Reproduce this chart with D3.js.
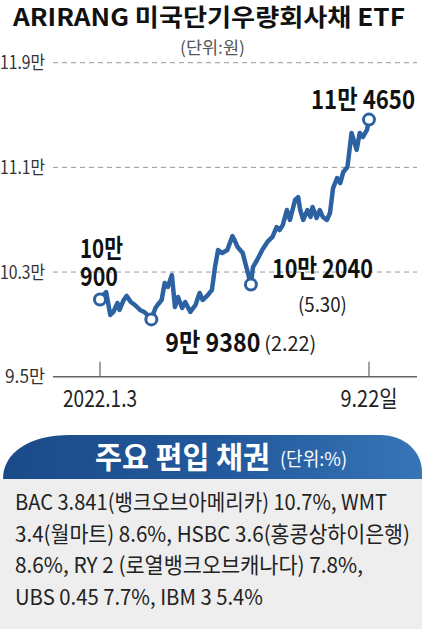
<!DOCTYPE html>
<html>
<head>
<meta charset="utf-8">
<script src="https://cdn.jsdelivr.net/npm/d3@7"></script>
<style>
  body { margin: 0; background: #fff; }
  text { font-family: "Noto Sans CJK KR", "Noto Sans", sans-serif; }
</style>
</head>
<body>
<div id="viz"></div>
<script>
// daily close, won
var dates = [
  "2022-01-03","2022-01-06","2022-01-09","2022-01-13","2022-01-16","2022-01-20","2022-01-22","2022-01-26",
  "2022-01-29","2022-02-02","2022-02-06","2022-02-11","2022-02-15","2022-02-18","2022-02-22","2022-02-26",
  "2022-02-28","2022-03-04","2022-03-07","2022-03-10","2022-03-14","2022-03-17","2022-03-20","2022-03-24",
  "2022-03-27","2022-04-01","2022-04-06","2022-04-10","2022-04-13","2022-04-18","2022-04-22","2022-04-25",
  "2022-04-28","2022-05-02","2022-05-07","2022-05-12","2022-05-14","2022-05-17","2022-05-22","2022-05-30",
  "2022-06-01","2022-06-05","2022-06-10","2022-06-15","2022-06-20","2022-06-24","2022-06-27","2022-06-30",
  "2022-07-04","2022-07-07","2022-07-12","2022-07-15","2022-07-17","2022-07-20","2022-07-24","2022-07-27",
  "2022-07-29","2022-08-02","2022-08-05","2022-08-08","2022-08-12","2022-08-15","2022-08-18","2022-08-22",
  "2022-08-25","2022-08-28","2022-09-01","2022-09-03","2022-09-05","2022-09-08","2022-09-10","2022-09-13",
  "2022-09-16","2022-09-20","2022-09-22"
];
var prices = [
  100900,101240,101470, 99720, 99950,100630,100100,100860,
  101170,100710,100480,100100, 99950, 99720, 99380,100250,
  100480,100860,102160,101860,102770,100330,101090,100250,
  100710, 99950,100480,101400,100860,101240,101630,103380,
  104680,104450,104680,105750,105450,104910,104450,102040,
  103380,103920,104680,105300,105680,106440,106210,106590,
  107740,106980,108510,108730,107740,106980,107740,107210,
  107970,107130,107740,107210,106980,107510,109420,110190,
  109800,110650,111030,112330,113630,112860,112330,113630,
  113320,113860,114650
];

var yTicks = [95000, 103000, 111000, 119000];
var yTickLabels = ["9.5만", "10.3만", "11.1만", "11.9만"];
var xTicks = ["2022-01-03", "2022-09-22"];
var xTickLabels = ["2022.1.3", "9.22일"];

// labelled points
var noteDates = ["2022-01-03", "2022-02-22", "2022-05-30", "2022-09-22"];
var noteValues = [100900, 99380, 102040, 114650];
var noteTexts = [["10만", "900"], ["9만 9380"], ["10만 2040"], ["11만 4650"]];
var noteSubs = ["", "(2.22)", "(5.30)", ""];

var title = "ARIRANG 미국단기우량회사채 ETF";
var unitText = "(단위:원)";
var boxTitle = "주요 편입 채권";
var boxUnit = "(단위:%)";
var holdingLines = [
  "BAC 3.841(뱅크오브아메리카) 10.7%, WMT",
  "3.4(월마트) 8.6%, HSBC 3.6(홍콩상하이은행)",
  "8.6%, RY 2 (로열뱅크오브캐나다) 7.8%,",
  "UBS 0.45 7.7%, IBM 3 5.4%"
];

var W = 425, H = 629;
var parseDate = d3.timeParse("%Y-%m-%d");
var lineColor = "#2d62a2";

var svg = d3.select("#viz").append("svg")
  .attr("width", W).attr("height", H);

var data = dates.map((d, i) => ({ date: parseDate(d), value: prices[i] }));

// scales
var x = d3.scaleTime()
  .domain([parseDate(xTicks[0]), parseDate(xTicks[1])])
  .range([100, 369]);
var y = d3.scaleLinear()
  .domain([95000, 119000])
  .range([376.7, 62.7]);

// title
svg.append("text")
  .attr("x", 13).attr("y", 26)
  .attr("font-size", 24).attr("font-weight", 700)
  .attr("textLength", 392).attr("lengthAdjust", "spacingAndGlyphs")
  .attr("fill", "#111")
  .text(title);

svg.append("text")
  .attr("x", 180).attr("y", 54)
  .attr("font-size", 17).attr("fill", "#555")
  .attr("textLength", 65).attr("lengthAdjust", "spacingAndGlyphs")
  .text(unitText);

// grid lines
var grid = svg.append("g");
grid.selectAll("line.grid")
  .data(yTicks.slice(1))
  .enter().append("line")
  .attr("class", "grid")
  .attr("x1", 53).attr("x2", 417)
  .attr("y1", d => y(d)).attr("y2", d => y(d))
  .attr("stroke", "#999").attr("stroke-width", 1)
  .attr("stroke-dasharray", "5,4");

// baseline
svg.append("line")
  .attr("x1", 53).attr("x2", 417)
  .attr("y1", y(yTicks[0])).attr("y2", y(yTicks[0]))
  .attr("stroke", "#666").attr("stroke-width", 1.5);

grid.selectAll("text.ylab")
  .data(yTicks)
  .enter().append("text")
  .attr("class", "ylab")
  .attr("x", 45).attr("y", d => y(d) + 6.5)
  .attr("text-anchor", "end")
  .attr("font-size", 18)
  .attr("textLength", (d, i) => yTickLabels[i].length > 4 ? 45 : 40)
  .attr("lengthAdjust", "spacingAndGlyphs")
  .attr("fill", "#333")
  .text((d, i) => yTickLabels[i]);

// x ticks
var xt = svg.append("g");
xt.selectAll("line")
  .data(xTicks)
  .enter().append("line")
  .attr("x1", d => x(parseDate(d))).attr("x2", d => x(parseDate(d)))
  .attr("y1", y(yTicks[0]) - 15).attr("y2", y(yTicks[0]))
  .attr("stroke", "#666").attr("stroke-width", 1.2);
xt.selectAll("text")
  .data(xTicks)
  .enter().append("text")
  .attr("x", d => x(parseDate(d)))
  .attr("y", 407)
  .attr("text-anchor", "middle")
  .attr("font-size", 23)
  .attr("textLength", (d, i) => [74, 57][i]).attr("lengthAdjust", "spacingAndGlyphs")
  .attr("fill", "#222")
  .text((d, i) => xTickLabels[i]);

// price line
var drawLine = d3.line()
  .x(d => x(d.date))
  .y(d => y(d.value));

svg.append("path")
  .datum(data)
  .attr("fill", "none")
  .attr("stroke", lineColor)
  .attr("stroke-width", 4.5)
  .attr("stroke-linejoin", "round")
  .attr("stroke-linecap", "round")
  .attr("d", drawLine);

// markers
var notes = noteDates.map((d, i) => ({
  date: parseDate(d), value: noteValues[i], text: noteTexts[i], sub: noteSubs[i]
}));

svg.selectAll("circle.note")
  .data(notes)
  .enter().append("circle")
  .attr("class", "note")
  .attr("cx", d => x(d.date)).attr("cy", d => y(d.value))
  .attr("r", 5.5)
  .attr("fill", "#fff")
  .attr("stroke", lineColor)
  .attr("stroke-width", 3);

// label placement relative to each marker
var noteLayout = [
  { dx: -20, dy: [-42, -14], anchor: "start", len: [43, 38] },
  { dx: 14, dy: [33], anchor: "start", len: [95], subDx: 113, subDy: 32, subLen: 52 },
  { dx: 21, dy: [-7], anchor: "start", len: [101], subDx: 47, subDy: 27, subLen: 49 },
  { dx: 46, dy: [-11], anchor: "end", len: [104] }
];

notes.forEach((n, i) => {
  var lay = noteLayout[i];
  var px = x(n.date), py = y(n.value);
  n.text.forEach((t, j) => {
    svg.append("text")
      .attr("x", px + lay.dx).attr("y", py + lay.dy[j])
      .attr("text-anchor", lay.anchor)
      .attr("font-size", 26).attr("font-weight", 700)
      .attr("textLength", lay.len[j]).attr("lengthAdjust", "spacingAndGlyphs")
      .attr("fill", "#111")
      .text(t);
  });
  if (n.sub) {
    svg.append("text")
      .attr("x", px + lay.subDx).attr("y", py + lay.subDy)
      .attr("font-size", 20)
      .attr("textLength", lay.subLen).attr("lengthAdjust", "spacingAndGlyphs")
      .attr("fill", "#222")
      .text(n.sub);
  }
});

// holdings box
var defs = svg.append("defs");
var grad = defs.append("linearGradient").attr("id", "bannerGrad")
  .attr("x1", "0%").attr("x2", "100%").attr("y1", "0%").attr("y2", "0%");
grad.append("stop").attr("offset", "0%").attr("stop-color", "#1b4a89");
grad.append("stop").attr("offset", "55%").attr("stop-color", "#235a9d");
grad.append("stop").attr("offset", "100%").attr("stop-color", "#3775b6");

svg.append("rect")
  .attr("x", 0).attr("y", 479).attr("width", 422).attr("height", 150)
  .attr("fill", "#eeeeee");

svg.append("path")
  .attr("d", "M3,479 C3,452 30,435 70,435 L380,435 C405,435 422,452 422,472 L422,479 Z")
  .attr("fill", "url(#bannerGrad)");

svg.append("text")
  .attr("x", 95).attr("y", 468)
  .attr("font-size", 30).attr("font-weight", 700)
  .attr("textLength", 175).attr("lengthAdjust", "spacingAndGlyphs")
  .attr("fill", "#fff")
  .text(boxTitle);
svg.append("text")
  .attr("x", 280).attr("y", 466)
  .attr("font-size", 19)
  .attr("textLength", 67).attr("lengthAdjust", "spacingAndGlyphs")
  .attr("fill", "#fff")
  .text(boxUnit);

var lineLens = [372, 395, 348, 248];
svg.selectAll("text.hold")
  .data(holdingLines)
  .enter().append("text")
  .attr("class", "hold")
  .attr("x", 15).attr("y", (d, i) => 510 + i * 31.7)
  .attr("font-size", 21.5)
  .attr("textLength", (d, i) => lineLens[i]).attr("lengthAdjust", "spacingAndGlyphs")
  .attr("fill", "#222")
  .text(d => d);
</script>
</body>
</html>
